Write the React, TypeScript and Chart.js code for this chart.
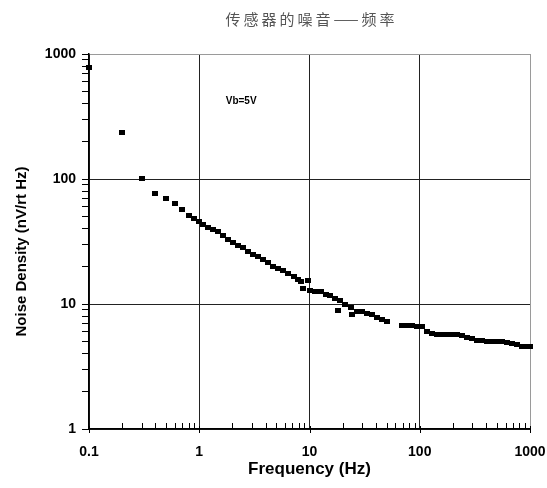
import React, { useEffect, useRef } from "react";
import { Chart, registerables } from "chart.js";

Chart.register(...registerables);

const TITLE = "传感器的噪音——频率";
const X_TITLE = "Frequency (Hz)";
const Y_TITLE = "Noise Density (nV/rt Hz)";
const NOTE = "Vb=5V";
const NOTE_X = 2.4;
const NOTE_Y = 420;

const FREQ = [
  0.1, 0.2, 0.3, 0.4, 0.5, 0.6, 0.7, 0.8, 0.9, 1.0,
  1.09, 1.21, 1.34, 1.49, 1.65, 1.83, 2.04, 2.26, 2.51, 2.79,
  3.1, 3.44, 3.82, 4.24, 4.71, 5.23, 5.8, 6.44, 7.16, 7.94,
  8.46, 8.82, 9.79, 10.2, 11.3, 12.6, 14.0, 15.5, 17.2, 18.3,
  19.1, 21.2, 23.6, 24.1, 26.8, 29.7, 33.0, 36.6, 40.6, 45.2,
  50.1, 68.6, 76.2, 84.6, 94.0, 104, 116, 129, 143, 158,
  176, 195, 217, 241, 267, 297, 330, 366, 407, 452,
  501, 556, 618, 686, 762, 846, 940, 1000,
];

const DENSITY = [
  777, 234, 101, 76.3, 69.2, 64, 57.2, 51.5, 47.9, 45.6,
  43.6, 41.3, 39.1, 37.7, 35.6, 33.1, 31.3, 29.6, 28.1, 26.5,
  25.1, 23.8, 22.5, 21.3, 20.1, 19.4, 18.7, 17.7, 16.7, 15.8,
  15.0, 13.2, 15.3, 12.9, 12.7, 12.5, 12.0, 11.6, 11.0, 8.95,
  10.6, 10.0, 9.29, 8.17, 8.79, 8.63, 8.47, 8.17, 7.87, 7.45,
  7.18, 6.79, 6.67, 6.67, 6.55, 6.55, 6.08, 5.86, 5.75, 5.65,
  5.65, 5.65, 5.65, 5.55, 5.35, 5.25, 5.15, 5.06, 4.97, 4.97,
  4.97, 4.97, 4.88, 4.79, 4.7, 4.61, 4.61, 4.53,
];

const X_TICKS = [
  0.1, 0.2, 0.3, 0.4, 0.5, 0.6, 0.7, 0.8, 0.9,
  1, 2, 3, 4, 5, 6, 7, 8, 9,
  10, 20, 30, 40, 50, 60, 70, 80, 90,
  100, 200, 300, 400, 500, 600, 700, 800, 900,
  1000,
];
const Y_TICKS = [
  1, 2, 3, 4, 5, 6, 7, 8, 9,
  10, 20, 30, 40, 50, 60, 70, 80, 90,
  100, 200, 300, 400, 500, 600, 700, 800, 900,
  1000,
];
const MAJOR_X = [0.1, 1, 10, 100, 1000];
const MAJOR_Y = [1, 10, 100, 1000];

const FONT = "'Liberation Sans', Arial, sans-serif";

const gridColor = (v: number | undefined, majors: number[]) => {
  if (v === undefined) return "rgba(0,0,0,0)";
  if (v === 1000) return "#9a9a9a";
  return majors.includes(v) ? "#222" : "rgba(0,0,0,0)";
};

const makeMarker = () => {
  const c = document.createElement("canvas");
  c.width = 6;
  c.height = 5;
  const g = c.getContext("2d")!;
  g.fillStyle = "#000";
  g.fillRect(0, 0, 6, 5);
  return c;
};

const decorPlugin = {
  id: "decor",
  afterDraw(chart: any) {
    const { ctx, chartArea, scales } = chart;
    const xs = scales.x;
    const ys = scales.y;
    ctx.save();
    // title
    ctx.font = "15px 'Noto Sans CJK SC'";
    ctx.fillStyle = "#555";
    ctx.textAlign = "center";
    ctx.textBaseline = "middle";
    try { (ctx as any).letterSpacing = "3px"; } catch (e) {}
    ctx.fillText(TITLE, (chartArea.left + chartArea.right) / 2 + 2, 19);
    try { (ctx as any).letterSpacing = "0px"; } catch (e) {}
    // y title
    ctx.save();
    ctx.translate(22, (chartArea.top + chartArea.bottom) / 2 + 10);
    ctx.rotate(-Math.PI / 2);
    ctx.font = `bold 15px ${FONT}`;
    ctx.fillStyle = "#000";
    ctx.fillText(Y_TITLE, 0, 0);
    ctx.restore();
    // inner x ticks
    ctx.strokeStyle = "#000";
    ctx.lineWidth = 1;
    for (const t of xs.ticks) {
      const px = Math.round(xs.getPixelForValue(t.value)) + 0.5;
      const major = MAJOR_X.includes(t.value);
      ctx.beginPath();
      ctx.moveTo(px, chartArea.bottom - (major ? 3 : 6));
      ctx.lineTo(px, chartArea.bottom + (major ? 4 : 0));
      ctx.stroke();
    }
    // annotation
    ctx.font = `bold 10px ${FONT}`;
    ctx.fillStyle = "#000";
    ctx.fillText(NOTE, xs.getPixelForValue(NOTE_X), ys.getPixelForValue(NOTE_Y));
    ctx.restore();
  },
};

export default function App() {
  const ref = useRef<HTMLCanvasElement>(null);
  useEffect(() => {
    document.body.style.margin = "0";
    const canvas = ref.current!;
    const chart = new Chart(canvas, {
      type: "scatter",
      data: {
        datasets: [
          {
            data: FREQ.map((f, i) => ({ x: f, y: DENSITY[i] })),
            pointStyle: makeMarker() as any,
            pointRadius: 3.5,
            pointBackgroundColor: "#000",
            pointBorderWidth: 0,
            showLine: false,
            clip: false as any,
          },
        ],
      },
      options: {
        animation: false,
        responsive: false,
        devicePixelRatio: 1,
        layout: { padding: { top: 54, right: 17, left: 0, bottom: 0 } },
        plugins: { legend: { display: false }, tooltip: { enabled: false } },
        scales: {
          x: {
            type: "logarithmic",
            min: 0.1,
            max: 1000,
            afterBuildTicks: (s: any) => {
              s.ticks = X_TICKS.map((v) => ({ value: v, major: false }));
            },
            afterFit: (s: any) => {
              s.height = 59;
              s.paddingRight = 0;
              s.paddingLeft = 0;
            },
            grid: {
              color: (c: any) => gridColor(c.tick?.value, MAJOR_X),
              drawTicks: false,
              lineWidth: 1,
            },
            border: { color: "#000", width: 1.5 },
            ticks: {
              autoSkip: false,
              maxRotation: 0,
              padding: 15,
              color: "#000",
              font: { family: FONT, size: 14, weight: "bold" },
              callback: (v: any) => (MAJOR_X.includes(Number(v)) ? String(v) : ""),
            },
            title: {
              display: true,
              text: X_TITLE,
              color: "#000",
              font: { family: FONT, size: 17, weight: "bold" },
              padding: { top: 0, bottom: 8 },
            },
          },
          y: {
            type: "logarithmic",
            min: 1,
            max: 1000,
            afterBuildTicks: (s: any) => {
              s.ticks = Y_TICKS.map((v) => ({ value: v, major: false }));
            },
            afterFit: (s: any) => {
              s.width = 89;
              s.paddingTop = 0;
              s.paddingBottom = 0;
            },
            grid: {
              color: (c: any) => gridColor(c.tick?.value, MAJOR_Y),
              tickColor: "#000",
              tickLength: 7,
              lineWidth: 1,
            },
            border: { color: "#000", width: 1.5 },
            ticks: {
              autoSkip: false,
              padding: 6,
              color: "#000",
              font: { family: FONT, size: 14, weight: "bold" },
              callback: (v: any) => (MAJOR_Y.includes(Number(v)) ? String(v) : ""),
            },
            title: { display: false },
          },
        },
      },
      plugins: [decorPlugin],
    });
    return () => chart.destroy();
  }, []);
  return <canvas ref={ref} width={547} height={488} style={{ display: "block" }} />;
}
